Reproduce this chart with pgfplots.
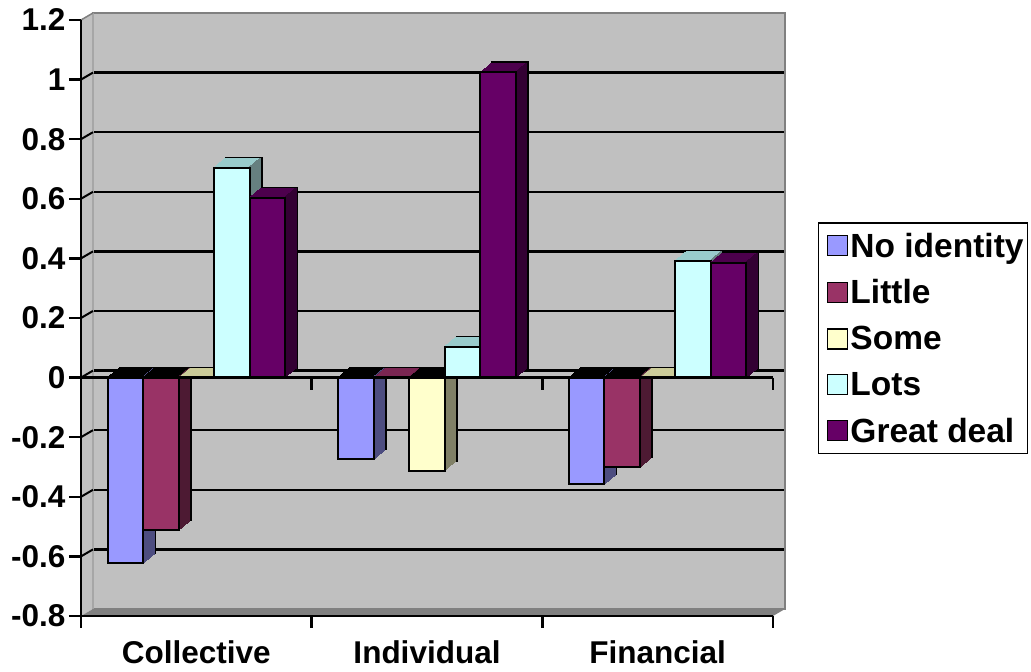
\documentclass[border=0pt]{standalone}
\usepackage{fontspec}
\setmainfont{Liberation Sans}
\usepackage{pgfplots}
\pgfplotsset{compat=1.18}
\usepackage{pgfplotstable}

\definecolor{wallgray}{HTML}{C0C0C0}
\definecolor{floorgray}{HTML}{808080}
\definecolor{noidF}{HTML}{9999FF}\definecolor{noidS}{HTML}{4D4D80}
\definecolor{litF}{HTML}{993366}\definecolor{litS}{HTML}{4D1A33}\definecolor{litT}{HTML}{7A2652}
\definecolor{someF}{HTML}{FFFFCC}\definecolor{someS}{HTML}{808066}\definecolor{someT}{HTML}{CCCC99}
\definecolor{lotsF}{HTML}{CCFFFF}\definecolor{lotsS}{HTML}{668080}\definecolor{lotsT}{HTML}{99CCCC}
\definecolor{grF}{HTML}{660066}\definecolor{grS}{HTML}{330033}\definecolor{grT}{HTML}{4D004D}

% x: 0 = Collective, 1 = Individual, 2 = Financial
\pgfplotstableread{
x y
0 -0.623
1 -0.273
2 -0.357
}\noid
\pgfplotstableread{
x y
0 -0.511
1 0.0
2 -0.301
}\little
\pgfplotstableread{
x y
0 0.0
1 -0.312
2 0.0
}\some
\pgfplotstableread{
x y
0 0.704
1 0.103
2 0.392
}\lots
\pgfplotstableread{
x y
0 0.604
1 1.024
2 0.384
}\great

\newcommand{\bw}{0.154}
% back outline copy
\newcommand{\backcopy}[3]{%
  \addplot[forget plot, bar width=\bw, bar shift=#2, fill=#3, draw=black, line width=2pt, xshift=12pt, yshift=10pt] table[x=x,y=y]{#1};}
% top/extrusion copies
\newcommand{\topcopies}[4]{%
  \pgfplotsinvokeforeach{0.1,0.2,0.3,0.4,0.5,0.6,0.7,0.8,0.9}{%
    \addplot[forget plot, bar width=\bw, bar shift=#2, fill=#3, draw=#3, line width=1.4pt, xshift=##1*12pt, yshift=##1*10pt, #4] table[x=x,y=y]{#1};}}
% side strips
\newcommand{\sidestrips}[3]{%
  \pgfplotsinvokeforeach{0.1,0.2,0.3,0.4,0.5,0.6,0.7,0.8,0.9}{%
    \addplot[forget plot, bar width=0.004, bar shift=#2, fill=#3, draw=#3, line width=1.4pt, xshift=##1*12pt, yshift=##1*10pt] table[x=x,y=y]{#1};}}
\newcommand{\frontbar}[4]{%
  \addplot[bar width=\bw, bar shift=#2, fill=#3, draw=black, line width=2pt] table[x=x,y=y]{#1};
  \addlegendentry{#4}}

\begin{document}
\begin{tikzpicture}
\path[use as bounding box] (0pt,0pt) rectangle (1031pt,672pt);

% back wall
\begin{axis}[
  at={(93pt,63pt)}, anchor=south west, scale only axis,
  width=692pt, height=596pt,
  xmin=-0.5, xmax=2.5, ymin=-0.8, ymax=1.2,
  xtick=\empty, ytick={-0.6,-0.4,-0.2,0,0.2,0.4,0.6,0.8,1},
  yticklabels={}, major tick length=0pt,
  ymajorgrids, grid style={black, line width=2.5pt},
  axis background/.style={fill=wallgray},
  axis line style={draw=floorgray, line width=1.5pt},
]
\end{axis}

% side wall and floor
\fill[wallgray] (81pt,56pt) -- (93pt,63pt) -- (93pt,659pt) -- (81pt,652pt) -- cycle;
\draw[floorgray!70, line width=1.5pt] (93pt,63pt) -- (93pt,659pt);
\foreach \v in {-0.6,-0.4,-0.2,0,0.2,0.4,0.6,0.8,1.0}{
  \pgfmathsetmacro\yf{56+(\v+0.8)*298}
  \pgfmathsetmacro\yb{63+(\v+0.8)*298}
  \draw[black, line width=2pt] (81pt,\yf pt) -- (93pt,\yb pt);
}
\draw[floorgray, line width=1.5pt] (81pt,652pt) -- (93pt,659pt);
\fill[floorgray] (81pt,56pt) -- (773pt,56pt) -- (785pt,63pt) -- (93pt,63pt) -- cycle;

% front
\begin{axis}[
  name=front, at={(81pt,56pt)}, anchor=south west, scale only axis,
  width=692pt, height=596pt,
  xmin=-0.5, xmax=2.5, ymin=-0.8, ymax=1.2,
  ybar, clip=false,
  axis x line*=bottom, axis y line*=left,
  axis line style={line width=2.5pt, black},
  xtick={-0.5,0.5,1.5,2.5}, x tick label as interval,
  xticklabels={Collective,Individual,Financial},
  xticklabel style={yshift=-9pt},
  ytick={-0.8,-0.6,-0.4,-0.2,0,0.2,0.4,0.6,0.8,1,1.2},
  tick align=outside, major tick length=12pt,
  tick style={line width=2.5pt, black},
  ticklabel style={font=\fontsize{31.5}{31.5}\selectfont\bfseries},
  /pgf/number format/assume math mode=true,
  legend image code/.code={\path (0pt,0pt); \draw[#1, draw=black, line width=1.5pt] (6pt,-10pt) rectangle (26pt,10pt);},
  legend cell align=left,
  legend style={at={(1.065,0.661)}, anchor=north west, draw=black, line width=1.5pt,
    font=\fontsize{33.5}{33.5}\selectfont\bfseries, inner xsep=2pt, inner ysep=8pt,
    row sep=17pt, /tikz/every even column/.append style={column sep=2pt}},
]
% No identity
\backcopy{\noid}{-0.308}{black}
\topcopies{\noid}{-0.308}{black}{}
\sidestrips{\noid}{-0.233}{noidS}
\frontbar{\noid}{-0.308}{noidF}{No identity}
% Little
\backcopy{\little}{-0.154}{black}
\topcopies{\little}{-0.154}{black}{}
\topcopies{\little}{-0.154}{litT}{restrict x to domain=0.9:1.1}
\sidestrips{\little}{-0.079}{litS}
\frontbar{\little}{-0.154}{litF}{Little}
% Some
\backcopy{\some}{0}{someT}
\topcopies{\some}{0}{someT}{}
\topcopies{\some}{0}{black}{restrict x to domain=0.9:1.1}
\sidestrips{\some}{0.075}{someS}
\frontbar{\some}{0}{someF}{Some}
% Lots
\backcopy{\lots}{0.154}{lotsT}
\topcopies{\lots}{0.154}{lotsT}{}
\sidestrips{\lots}{0.229}{lotsS}
\frontbar{\lots}{0.154}{lotsF}{Lots}
% Great deal
\backcopy{\great}{0.308}{grT}
\topcopies{\great}{0.308}{grT}{}
\sidestrips{\great}{0.383}{grS}
\frontbar{\great}{0.308}{grF}{Great deal}

\draw[line width=2.5pt] (axis cs:-0.5,0) -- (axis cs:2.5,0);
\draw[line width=2.5pt] (axis cs:0.5,0) -- ++(0pt,-12pt);
\draw[line width=2.5pt] (axis cs:1.5,0) -- ++(0pt,-12pt);
\draw[line width=2.5pt] (axis cs:2.5,0) -- ++(0pt,-12pt);
\end{axis}
\end{tikzpicture}
\end{document}
